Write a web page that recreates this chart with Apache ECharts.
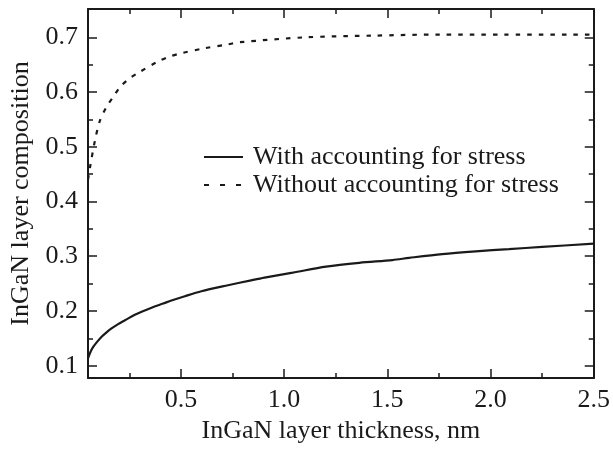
<!DOCTYPE html>
<html><head><meta charset="utf-8">
<script src="https://cdn.jsdelivr.net/npm/echarts@6/dist/echarts.min.js"></script>
<style>html,body{margin:0;padding:0;background:#fff}#c{width:613px;height:452px}</style>
</head><body><div id="c"></div>
<script>
const thickSolid = [0.05, 0.062, 0.076, 0.095, 0.116, 0.14, 0.164, 0.196, 0.229, 0.277, 0.358, 0.414, 0.454, 0.519, 0.599, 0.728, 0.84, 0.905, 1.042, 1.203, 1.364, 1.525, 1.606, 1.766, 1.928, 2.089, 2.25, 2.5];
const compSolid  = [0.1135, 0.125, 0.1347, 0.144, 0.153, 0.161, 0.168, 0.176, 0.183, 0.193, 0.206, 0.2135, 0.219, 0.227, 0.236, 0.247, 0.256, 0.261, 0.270, 0.281, 0.288, 0.293, 0.297, 0.304, 0.309, 0.313, 0.317, 0.323];
const thickDash  = [0.05, 0.06, 0.084, 0.108, 0.14, 0.172, 0.205, 0.245, 0.293, 0.39, 0.446, 0.503, 0.615, 0.728, 0.784, 1.106, 1.428, 1.75, 2.07, 2.5];
const compDash   = [0.44, 0.463, 0.512, 0.548, 0.573, 0.591, 0.609, 0.623, 0.635, 0.656, 0.665, 0.671, 0.680, 0.687, 0.691, 0.700, 0.703, 0.705, 0.705, 0.705];
const xMajor = [0.5, 1.0, 1.5, 2.0, 2.5];
const xMinor = [0.25, 0.75, 1.25, 1.75, 2.25];
const yMajor = [0.1, 0.2, 0.3, 0.4, 0.5, 0.6, 0.7];
const yMinor = [0.15, 0.25, 0.35, 0.45, 0.55, 0.65];
const seriesNames = ['With accounting for stress', 'Without accounting for stress'];
const xName = 'InGaN layer thickness, nm';
const yName = 'InGaN layer composition';

const C = '#1a1a1a';
const FONT = 'Liberation Serif';
const FS = 26;
const X0 = 0.05, X1 = 2.5, Y0 = 0.0775, Y1 = 0.7517;

function xAx(pos, ticks, len, showLine, labels, name) {
  return {
    type: 'value', position: pos, min: X0, max: X1,
    axisLine: {show: showLine, onZero: false, lineStyle: {color: C, width: 2}},
    axisTick: {show: true, inside: true, length: len, customValues: ticks, lineStyle: {color: C, width: 1.5}},
    axisLabel: labels ? {show: true, customValues: ticks, formatter: v => v.toFixed(1), color: C, fontFamily: FONT, fontSize: FS, margin: 9} : {show: false},
    splitLine: {show: false},
    name: name || '', nameLocation: 'middle', nameGap: 37,
    nameTextStyle: {color: C, fontFamily: FONT, fontSize: FS}
  };
}
function yAx(pos, ticks, len, showLine, labels, name) {
  return {
    type: 'value', position: pos, min: Y0, max: Y1,
    axisLine: {show: showLine, onZero: false, lineStyle: {color: C, width: 2}},
    axisTick: {show: true, inside: true, length: len, customValues: ticks, lineStyle: {color: C, width: 1.5}},
    axisLabel: labels ? {show: true, customValues: ticks, formatter: v => v.toFixed(1), color: C, fontFamily: FONT, fontSize: FS, margin: 10} : {show: false},
    splitLine: {show: false},
    name: name || '', nameLocation: 'middle', nameGap: 53,
    nameTextStyle: {color: C, fontFamily: FONT, fontSize: FS}
  };
}

const chart = echarts.init(document.getElementById('c'), null, {renderer: 'canvas'});
chart.setOption({
  animation: false,
  backgroundColor: '#fff',
  grid: {left: 88, right: 18, top: 9, bottom: 74, containLabel: false},
  xAxis: [
    xAx('bottom', xMajor, 9, true, true, xName),
    xAx('bottom', xMinor, 5, false, false),
    xAx('top', xMajor, 9, true, false),
    xAx('top', xMinor, 5, false, false)
  ],
  yAxis: [
    yAx('left', yMajor, 9, true, true, yName),
    yAx('left', yMinor, 5, false, false),
    yAx('right', yMajor, 9, true, false),
    yAx('right', yMinor, 5, false, false)
  ],
  legend: {
    orient: 'vertical', left: 203, top: 144, padding: 0,
    itemWidth: 39, itemHeight: 14, itemGap: 2,
    itemStyle: {opacity: 0},
    textStyle: {color: C, fontFamily: FONT, fontSize: FS, padding: [0, 0, 0, 5]},
    data: [
      {name: seriesNames[0], lineStyle: {type: 'solid', width: 2}},
      {name: seriesNames[1], lineStyle: {type: [5, 11], width: 2}}
    ]
  },
  series: [
    {
      name: seriesNames[0], type: 'line', xAxisIndex: 0, yAxisIndex: 0,
      data: thickSolid.map((x, i) => [x, compSolid[i]]),
      symbol: 'none', smooth: 0.3,
      lineStyle: {color: C, width: 2.2, type: 'solid'}, itemStyle: {color: C}
    },
    {
      name: seriesNames[1], type: 'line', xAxisIndex: 0, yAxisIndex: 0,
      data: thickDash.map((x, i) => [x, compDash[i]]),
      symbol: 'none', smooth: 0.3,
      lineStyle: {color: C, width: 2.2, type: [4.5, 7]}, itemStyle: {color: C}
    }
  ]
});
</script></body></html>
